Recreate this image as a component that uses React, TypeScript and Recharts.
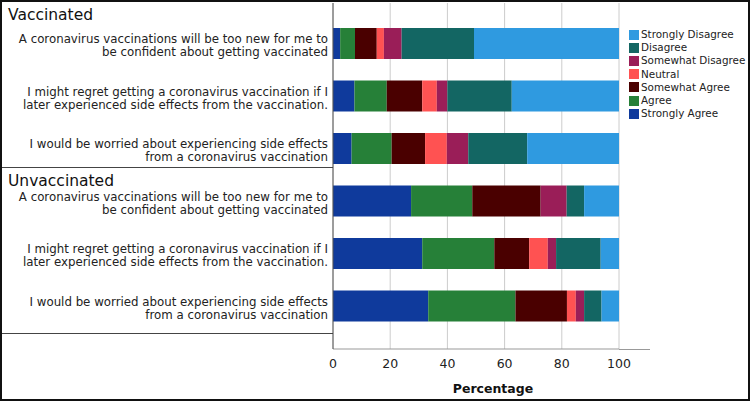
import {Bar, BarChart, CartesianGrid, Label, XAxis, YAxis} from "recharts";

// rows, top to bottom
const rowIds = ["v1", "v2", "v3", "u1", "u2", "u3"];
const rowLabels = [
    ["A coronavirus vaccinations will be too new for me to", "be confident about getting vaccinated"],
    ["I might regret getting a coronavirus vaccination if I", "later experienced side effects from the vaccination."],
    ["I would be worried about experiencing side effects", "from a coronavirus vaccination"],
    ["A coronavirus vaccinations will be too new for me to", "be confident about getting vaccinated"],
    ["I might regret getting a coronavirus vaccination if I", "later experienced side effects from the vaccination."],
    ["I would be worried about experiencing side effects", "from a coronavirus vaccination"],
];

const stronglyAgree = [2.5, 7.5, 6.5, 27.3, 31.2, 33.3];
const agree = [5.2, 11.3, 14.0, 21.4, 25.2, 30.5];
const somewhatAgree = [7.6, 12.4, 11.7, 23.9, 12.2, 18.0];
const neutral = [2.5, 5.1, 7.6, 0, 6.5, 3.1];
const somewhatDisagree = [6.2, 3.7, 7.5, 9.1, 2.9, 2.9];
const disagree = [25.3, 22.5, 20.6, 6.1, 15.6, 6.1];
const stronglyDisagree = [50.7, 37.5, 32.1, 12.2, 6.4, 6.1];

const xTicks = [0, 20, 40, 60, 80, 100];

const series = [
    {key: "sa", name: "Strongly Agree", values: stronglyAgree, color: "#0f3a9c"},
    {key: "a", name: "Agree", values: agree, color: "#268038"},
    {key: "swa", name: "Somewhat Agree", values: somewhatAgree, color: "#4a0000"},
    {key: "n", name: "Neutral", values: neutral, color: "#ff5252"},
    {key: "swd", name: "Somewhat Disagree", values: somewhatDisagree, color: "#9a1e58"},
    {key: "d", name: "Disagree", values: disagree, color: "#136663"},
    {key: "sd", name: "Strongly Disagree", values: stronglyDisagree, color: "#2f9ae0"},
];

const rows = rowIds.map((id, i) => {
    const row: Record<string, string | number> = {id};
    series.forEach((s) => { row[s.key] = s.values[i]; });
    return row;
});

const font = "'DejaVu Sans', sans-serif";

function RowTick(props: any) {
    const {x, y, payload} = props;
    const lines = rowLabels[rowIds.indexOf(payload.value)] ?? [];
    return (
        <text x={x + 3} y={y + 2.5} textAnchor="end" fontFamily={font} fontSize={11.8} fill="#222">
            <tspan x={x + 3} dy={-2.5}>{lines[0]}</tspan>
            <tspan x={x + 3} dy={12.8}>{lines[1]}</tspan>
        </text>
    );
}

const hline = (top: number, left: number, width: number, color: string) => (
    <div style={{position: "absolute", top, left, width, height: 1, background: color}} />
);

export default function App() {
    return (
        <div style={{position: "absolute", top: 0, left: 0, width: 750, height: 401, background: "#fff", fontFamily: font}}>
            <BarChart width={750} height={401} data={rows} layout="vertical"
                      margin={{top: 3, right: 131, bottom: 0, left: 0}} barSize={31}>
                <CartesianGrid horizontal={false} stroke="#cccccc" />
                <XAxis type="number" domain={[0, 100]} ticks={xTicks} height={52}
                       tickLine={false} tickMargin={4} axisLine={{stroke: "#999"}}
                       tick={{fill: "#222", fontSize: 12.5, fontFamily: font}}>
                    <Label value="Percentage" position="insideBottom" offset={8} dx={17}
                           style={{fontWeight: "bold", fontSize: 12.5, fill: "#111", fontFamily: font}} />
                </XAxis>
                <YAxis type="category" dataKey="id" width={333} tickLine={false}
                       axisLine={{stroke: "#555"}} tick={<RowTick />} padding={{top: 14, bottom: 17}} />
                {series.map((s) => (
                    <Bar key={s.key} dataKey={s.key} name={s.name} stackId="all" fill={s.color}
                         isAnimationActive={false} />
                ))}
            </BarChart>

            {/* left label panel */}
            {hline(167, 0, 333, "#444")}
            {hline(333, 0, 333, "#444")}
            {hline(349, 619, 31, "#999")}
            <div style={{position: "absolute", top: 6, left: 8, fontSize: 15.5, color: "#111"}}>Vaccinated</div>
            <div style={{position: "absolute", top: 172, left: 8, fontSize: 15.5, color: "#111"}}>Unvaccinated</div>

            {/* legend */}
            <div style={{position: "absolute", top: 28, left: 629, fontSize: 10.4, color: "#222", lineHeight: "13.2px"}}>
                {[...series].reverse().map((s) => (
                    <div key={s.key} style={{display: "flex", alignItems: "center", whiteSpace: "nowrap"}}>
                        <span style={{width: 10, height: 10, background: s.color, marginRight: 2, display: "inline-block"}} />
                        {s.name}
                    </div>
                ))}
            </div>

            <div style={{position: "absolute", inset: 0, border: "2px solid #111", pointerEvents: "none"}} />
        </div>
    );
}
